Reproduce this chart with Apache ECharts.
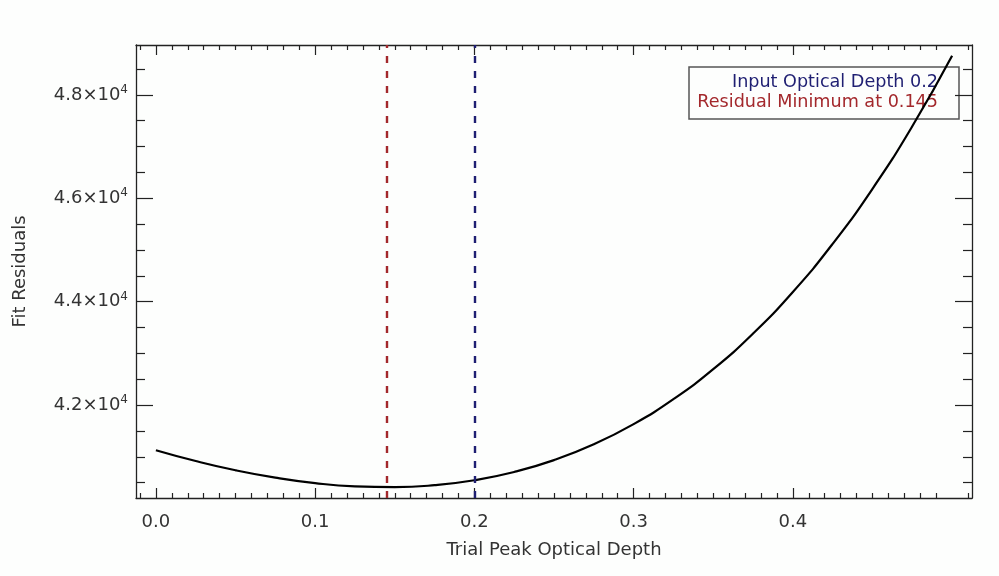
<!DOCTYPE html>
<html>
<head>
<meta charset="utf-8">
<title>Fit Residuals</title>
<script src="https://cdn.jsdelivr.net/npm/echarts@6/dist/echarts.min.js"></script>
<style>
  html, body { margin: 0; padding: 0; background: #fdfefd; }
  #chart { width: 999px; height: 576px; }
</style>
</head>
<body>
<div id="chart"></div>
<script>
// values
var depth = [0, 0.025, 0.05, 0.075, 0.1, 0.125, 0.15, 0.175, 0.2, 0.225, 0.25,
  0.275, 0.3, 0.325, 0.35, 0.375, 0.4, 0.425, 0.45, 0.475, 0.5]
var residuals = [41129, 40920, 40741, 40598, 40492, 40430, 40415, 40453, 40548, 40708, 40937,
  41243, 41634, 42116, 42696, 43385, 44189, 45119, 46183, 47392, 48756]

var inputDepth = 0.2
var residualMin = 0.145

var xMajorTicks = [0, 0.1, 0.2, 0.3, 0.4]
var yMajorTicks = [42000, 44000, 46000, 48000]

var legendLines = ['Input Optical Depth 0.2', 'Residual Minimum at 0.145']

var xRange = [-0.0125, 0.5125]
var yRange = [40205, 48964]

var xMinorTicks = []
for (var i = -1; i <= 51; i++) {
  if (i % 10 !== 0) xMinorTicks.push(i / 100)
}
var yMinorTicks = []
for (var v = 40500; v <= 48500; v += 500) {
  if (v % 2000 !== 0) yMinorTicks.push(v)
}

var font = 'DejaVu Sans'
var axisColor = '#222'
var textColor = '#333'
var red = '#a3282c'
var blue = '#1f1f72'

function xAxisDef(pos, ticks, len, main) {
  return {
    type: 'value',
    position: pos,
    min: xRange[0],
    max: xRange[1],
    axisLine: { show: main, onZero: false, lineStyle: { color: axisColor, width: 1.3 } },
    axisTick: { show: true, inside: true, length: len, customValues: ticks, lineStyle: { color: axisColor, width: 1.2 } },
    axisLabel: { show: false },
    splitLine: { show: false }
  }
}

function yAxisDef(pos, ticks, len, main) {
  return {
    type: 'value',
    position: pos,
    min: yRange[0],
    max: yRange[1],
    axisLine: { show: main, onZero: false, lineStyle: { color: axisColor, width: 1.3 } },
    axisTick: { show: true, inside: true, length: len, customValues: ticks, lineStyle: { color: axisColor, width: 1.2 } },
    axisLabel: { show: false },
    splitLine: { show: false }
  }
}

var bottomAxis = xAxisDef('bottom', xMajorTicks, 10, true)
bottomAxis.axisLabel = {
  show: true,
  customValues: xMajorTicks,
  margin: 15,
  fontFamily: font,
  fontSize: 18,
  color: textColor,
  formatter: function (val) { return val.toFixed(1) }
}
bottomAxis.name = 'Trial Peak Optical Depth'
bottomAxis.nameLocation = 'middle'
bottomAxis.nameGap = 43
bottomAxis.nameTextStyle = { fontFamily: font, fontSize: 18, color: textColor }

var leftAxis = yAxisDef('left', yMajorTicks, 17, true)
leftAxis.axisLabel = {
  show: true,
  customValues: yMajorTicks,
  margin: 8,
  color: textColor,
  formatter: function (val) {
    return '{a|' + (val / 10000).toFixed(1) + '×10}{b|4}'
  },
  rich: {
    a: { fontFamily: font, fontSize: 18, color: textColor },
    b: { fontFamily: font, fontSize: 12, color: textColor, padding: [0, 0, 10, 0] }
  }
}
leftAxis.name = 'Fit Residuals'
leftAxis.nameLocation = 'middle'
leftAxis.nameGap = 107
leftAxis.nameTextStyle = { fontFamily: font, fontSize: 18, color: textColor }

var chart = echarts.init(document.getElementById('chart'))

chart.setOption({
  backgroundColor: '#fdfefd',
  animation: false,
  grid: { left: 136, top: 45, width: 836, height: 453, containLabel: false },
  xAxis: [
    bottomAxis,
    xAxisDef('bottom', xMinorTicks, 5, false),
    xAxisDef('top', xMajorTicks, 10, true),
    xAxisDef('top', xMinorTicks, 5, false)
  ],
  yAxis: [
    leftAxis,
    yAxisDef('left', yMinorTicks, 9, false),
    yAxisDef('right', yMajorTicks, 17, true),
    yAxisDef('right', yMinorTicks, 9, false)
  ],
  series: [{
    type: 'line',
    xAxisIndex: 0,
    yAxisIndex: 0,
    data: depth.map(function (d, i) { return [d, residuals[i]] }),
    smooth: true,
    showSymbol: false,
    lineStyle: { color: '#000', width: 2.2 },
    markLine: {
      silent: true,
      symbol: 'none',
      precision: 3,
      label: { show: false },
      lineStyle: { type: [7, 8], width: 2.4 },
      data: [
        { xAxis: residualMin, lineStyle: { color: red } },
        { xAxis: inputDepth, lineStyle: { color: blue } }
      ]
    }
  }],
  graphic: [{
    type: 'group',
    z: 100,
    children: [{
      type: 'rect',
      shape: { x: 689, y: 67, width: 270, height: 52 },
      style: { fill: '#fdfefd', stroke: '#555', lineWidth: 1.5 }
    }, {
      type: 'text',
      x: 938,
      y: 82,
      style: { text: legendLines[0], fill: blue, font: '17.6px "DejaVu Sans"', align: 'right', verticalAlign: 'middle' }
    }, {
      type: 'text',
      x: 938,
      y: 102,
      style: { text: legendLines[1], fill: red, font: '17.6px "DejaVu Sans"', align: 'right', verticalAlign: 'middle' }
    }]
  }]
})
</script>
</body>
</html>
